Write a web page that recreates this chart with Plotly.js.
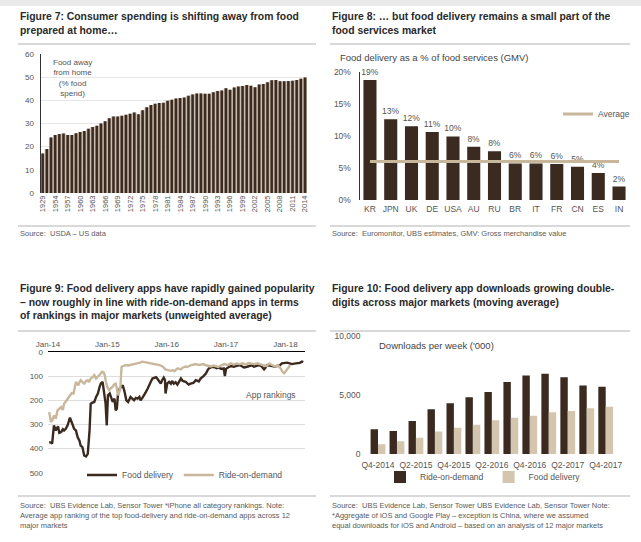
<!DOCTYPE html>
<html><head><meta charset="utf-8">
<script src="https://cdn.plot.ly/plotly-3.0.1.min.js"></script>
<style>html,body{margin:0;padding:0;background:#fff}#chart{width:641px;height:542px}</style>
</head><body><div id="chart"></div>
<script>
// ---------- Figure 7 data ----------
const fig7Years = ['1929','1952','1953','1954','1955','1956','1957','1958','1959','1960','1961','1962','1963','1964','1965','1966','1967','1968','1969','1970','1971','1972','1973','1974','1975','1976','1977','1978','1979','1980','1981','1982','1983','1984','1985','1986','1987','1988','1989','1990','1991','1992','1993','1994','1995','1996','1997','1998','1999','2000','2001','2002','2003','2004','2005','2006','2007','2008','2009','2010','2011','2012','2013','2014'];
const fig7Share = [17,19,24,25,25.5,25.7,25,25,25.8,26.3,26.8,27.7,28.5,29,30,31,32.3,33,33,33.3,33.8,34.2,34.8,34,35.7,37,38,38.5,38.8,39,39.8,40.3,40.8,41,41.2,42,42.5,43,43,42.8,42.8,43.5,44,44.2,45.2,44.6,45.5,46,46.2,46.6,46.3,45.6,46.8,47,47.8,48.7,48.8,48.2,48.2,48.3,48.4,48.8,49.3,49.9];
const fig7TickYears = ['1929','1954','1957','1960','1963','1966','1969','1972','1975','1978','1981','1984','1987','1990','1993','1996','1999','2002','2005','2008','2011','2014'];

// ---------- Figure 8 data ----------
const fig8Countries = ['KR','JPN','UK','DE','USA','AU','RU','BR','IT','FR','CN','ES','IN'];
const fig8Share = [18.7,12.6,11.5,10.6,9.9,8.3,7.6,5.7,5.7,5.6,5.2,4.2,2.1];
const fig8Average = [6.0,6.0,6.0,6.0,6.0,6.0,6.0,6.0,6.0,6.0,6.0,6.0,6.0];
const fig8TickVals = [0,5,10,15,20];
const fig8TickText = ['0%','5%','10%','15%','20%'];

// ---------- Figure 9 data (decimal years, average rank) ----------
const fig9FoodT = [2014.02,2014.05,2014.07,2014.10,2014.13,2014.17,2014.19,2014.22,2014.25,2014.27,2014.30,2014.33,2014.37,2014.42,2014.44,2014.47,2014.50,2014.53,2014.55,2014.58,2014.61,2014.64,2014.67,2014.70,2014.72,2014.75,2014.78,2014.81,2014.84,2014.87,2014.89,2014.92,2014.94,2014.96,2014.97,2014.99,2015.01,2015.04,2015.09,2015.12,2015.14,2015.16,2015.18,2015.21,2015.24,2015.26,2015.29,2015.32,2015.35,2015.38,2015.39,2015.42,2015.45,2015.48,2015.51,2015.54,2015.56,2015.59,2015.62,2015.65,2015.68,2015.71,2015.73,2015.76,2015.79,2015.82,2015.84,2015.87,2015.90,2015.92,2015.95,2015.97,2015.98,2016.01,2016.04,2016.07,2016.09,2016.12,2016.15,2016.18,2016.24,2016.27,2016.32,2016.37,2016.40,2016.45,2016.49,2016.54,2016.57,2016.62,2016.66,2016.69,2016.71,2016.76,2016.79,2016.84,2016.88,2016.92,2016.96,2016.98,2017.00,2017.05,2017.09,2017.13,2017.18,2017.22,2017.26,2017.30,2017.34,2017.38,2017.43,2017.47,2017.51,2017.55,2017.60,2017.64,2017.66,2017.69,2017.73,2017.78,2017.82,2017.86,2017.90,2017.94,2017.98,2018.03,2018.07,2018.11,2018.15,2018.20,2018.24,2018.28,2018.30];
const fig9FoodRank = [375,374,380,304,325,308,335,332,320,325,318,304,272,304,318,325,353,367,388,394,429,433,422,325,214,210,207,186,172,144,130,124,158,193,213,304,179,172,207,193,242,235,172,151,144,138,165,200,207,193,186,193,200,190,193,186,200,190,179,165,151,131,124,110,106,104,110,120,131,118,106,115,172,130,124,131,120,131,125,135,110,120,124,135,131,128,117,122,110,100,89,75,68,62,61,67,65,70,68,100,70,61,58,61,56,54,58,64,62,58,55,61,58,54,60,72,66,54,56,58,60,58,56,47,45,44,47,50,48,47,45,40,42];
const fig9RideT = [2014.02,2014.05,2014.08,2014.10,2014.12,2014.13,2014.16,2014.19,2014.22,2014.25,2014.27,2014.30,2014.33,2014.35,2014.37,2014.40,2014.43,2014.45,2014.47,2014.49,2014.51,2014.53,2014.55,2014.58,2014.61,2014.64,2014.67,2014.69,2014.72,2014.75,2014.78,2014.81,2014.84,2014.86,2014.89,2014.91,2014.94,2014.96,2014.97,2015.00,2015.03,2015.06,2015.09,2015.11,2015.14,2015.16,2015.18,2015.21,2015.22,2015.23,2015.24,2015.27,2015.31,2015.35,2015.39,2015.44,2015.48,2015.51,2015.55,2015.59,2015.63,2015.68,2015.71,2015.76,2015.80,2015.84,2015.88,2015.93,2015.95,2015.98,2016.02,2016.07,2016.10,2016.13,2016.17,2016.20,2016.24,2016.27,2016.32,2016.35,2016.40,2016.44,2016.49,2016.54,2016.57,2016.62,2016.66,2016.69,2016.74,2016.79,2016.84,2016.87,2016.92,2016.97,2017.03,2017.08,2017.13,2017.18,2017.23,2017.28,2017.33,2017.38,2017.43,2017.48,2017.53,2017.58,2017.63,2017.68,2017.73,2017.78,2017.83,2017.88,2017.92,2017.95,2017.98,2018.02,2018.05,2018.08];
const fig9RideRank = [249,290,280,263,270,276,242,235,228,240,214,205,193,185,179,170,172,150,124,130,138,125,117,125,131,120,117,125,110,105,96,110,103,95,89,82,85,100,117,145,158,150,144,135,131,150,179,160,144,100,61,58,54,56,54,50,48,47,44,40,42,47,46,50,51,53,54,60,65,72,75,78,75,80,70,68,72,65,60,62,55,52,50,54,52,50,55,58,60,56,58,62,55,50,54,47,52,48,50,47,52,46,48,50,47,52,55,58,48,55,60,56,68,82,88,75,62,55];
const fig9TickVals = [2014,2015,2016,2017,2018];
const fig9TickText = ['Jan-14','Jan-15','Jan-16','Jan-17','Jan-18'];

// ---------- Figure 10 data ----------
const fig10Quarters = ['Q4-2014','Q1-2015','Q2-2015','Q3-2015','Q4-2015','Q1-2016','Q2-2016','Q3-2016','Q4-2016','Q1-2017','Q2-2017','Q3-2017','Q4-2017'];
const fig10Ride = [2100,1950,2800,3800,4300,4800,5250,6100,6650,6800,6500,5800,5700];
const fig10Food = [820,1070,1380,1900,2230,2480,2850,3080,3250,3530,3640,3870,4010];
const fig10TickQuarters = ['Q4-2014','Q2-2015','Q4-2015','Q2-2016','Q4-2016','Q2-2017','Q4-2017'];

// ---------- styling ----------
const W = 641, H = 542;
const px = x => x / W, py = y => 1 - y / H;
const DARK = '#3b2a20', TAN = '#c9b79c', TAN_LIGHT = '#d4c5ae', GAP = '#b9ab9c';
const FONT = 'Liberation Sans, Arial, sans-serif';
const TXT = '#555555';

const traces = [
  {type:'bar', x:fig7Years, y:fig7Share, xaxis:'x', yaxis:'y', width:1, marker:{color:GAP}, showlegend:false, hoverinfo:'skip'},
  {type:'bar', x:fig7Years, y:fig7Share, xaxis:'x', yaxis:'y', width:0.6, marker:{color:DARK}, showlegend:false, hoverinfo:'skip'},

  {type:'bar', x:fig8Countries, y:fig8Share, xaxis:'x2', yaxis:'y2', width:0.63, marker:{color:DARK},
   texttemplate:'%{y:.0f}%', textposition:'outside', constraintext:'none', cliponaxis:false,
   textfont:{size:8.5, color:TXT, family:FONT}, showlegend:false, hoverinfo:'skip'},
  {type:'scatter', mode:'lines', x:fig8Countries, y:fig8Average, xaxis:'x2', yaxis:'y2', name:'Average',
   line:{color:TAN, width:3}, legend:'legend', showlegend:true, hoverinfo:'skip'},

  {type:'scatter', mode:'lines', x:fig9FoodT, y:fig9FoodRank, xaxis:'x3', yaxis:'y3', name:'Food delivery',
   line:{color:DARK, width:2.4}, legend:'legend2', hoverinfo:'skip'},
  {type:'scatter', mode:'lines', x:fig9RideT, y:fig9RideRank, xaxis:'x3', yaxis:'y3', name:'Ride-on-demand',
   line:{color:TAN, width:2.4}, legend:'legend2', hoverinfo:'skip'},

  {type:'bar', x:fig10Quarters, y:fig10Ride, xaxis:'x4', yaxis:'y4', name:'Ride-on-demand', width:0.39, offset:-0.39,
   marker:{color:DARK}, legend:'legend3', hoverinfo:'skip'},
  {type:'bar', x:fig10Quarters, y:fig10Food, xaxis:'x4', yaxis:'y4', name:'Food delivery', width:0.39, offset:0,
   marker:{color:TAN_LIGHT}, legend:'legend3', hoverinfo:'skip'}
];

const axFont = {family:FONT, size:8, color:TXT};
const titleFont = {family:FONT, size:10.4, color:'#2a2a2a'};
const srcFont = {family:FONT, size:7.5, color:'#5a5a5a'};

function ann(x, y, text, font, opts) {
  return Object.assign({xref:'paper', yref:'paper', x:px(x), y:py(y), text:text, showarrow:false,
    font:font, xanchor:'left', yanchor:'top', align:'left'}, opts || {});
}
function rule(x0, x1, y) {
  return {type:'line', xref:'paper', yref:'paper', x0:px(x0), x1:px(x1), y0:py(y), y1:py(y), line:{color:'#cccccc', width:1.5}};
}

const layout = {
  width: W, height: H,
  margin: {l:0, r:0, t:0, b:0},
  paper_bgcolor: '#ffffff', plot_bgcolor: 'rgba(0,0,0,0)',
  font: {family: FONT, color: TXT},
  barmode: 'overlay',
  showlegend: true,
  xaxis: {domain:[px(40.6), px(307.1)], anchor:'y', type:'category', range:[-0.5, fig7Years.length - 0.5],
    tickmode:'array', tickvals:fig7TickYears, ticktext:fig7TickYears, tickangle:-90, tickfont:{family:FONT, size:7.5, color:TXT},
    showgrid:false, showline:false, ticks:'', fixedrange:true},
  yaxis: {domain:[py(193), py(54)], anchor:'x', range:[0, 60], dtick:10, tickfont:axFont, gridcolor:'#e6e6e6',
    showline:true, linecolor:'#333333', linewidth:1, zeroline:false, ticks:'', ticklabelstandoff:4, fixedrange:true},

  xaxis2: {domain:[px(359.6), px(629.4)], anchor:'y2', type:'category', tickfont:{family:FONT, size:8.5, color:TXT},
    showgrid:false, showline:false, ticks:'', ticklabelstandoff:2, fixedrange:true},
  yaxis2: {domain:[py(200), py(71.7)], anchor:'x2', range:[0, 20], tickmode:'array', tickvals:fig8TickVals, ticktext:fig8TickText,
    tickfont:{family:FONT, size:8.5, color:TXT}, showgrid:false, showline:true, linecolor:'#333333', linewidth:1,
    zeroline:false, ticks:'', ticklabelstandoff:6, fixedrange:true},

  xaxis3: {domain:[px(48), px(305)], anchor:'y3', side:'top', range:[2014.0, 2018.33], tickmode:'array',
    tickvals:fig9TickVals, ticktext:fig9TickText, tickfont:axFont, showgrid:false, showline:true, linecolor:'#000000',
    linewidth:1.5, zeroline:false, ticks:'', fixedrange:true},
  yaxis3: {domain:[py(472.7), py(352)], anchor:'x3', range:[500, 0], dtick:100, tickfont:axFont, gridcolor:'#dddddd',
    showline:false, zeroline:false, ticks:'', ticklabelstandoff:4, fixedrange:true},

  xaxis4: {domain:[px(368.5), px(615.2)], anchor:'y4', type:'category', tickmode:'array', tickvals:fig10TickQuarters,
    ticktext:fig10TickQuarters, tickfont:{family:FONT, size:8.5, color:TXT}, showgrid:false, showline:false, ticks:'',
    ticklabelstandoff:4, fixedrange:true},
  yaxis4: {domain:[py(454), py(336)], anchor:'x4', range:[0, 10000], tickmode:'array', tickvals:[0,5000,10000], tickformat:',',
    tickfont:{family:FONT, size:8.5, color:TXT}, showgrid:false, showline:false, zeroline:false, ticks:'',
    ticklabelstandoff:7, fixedrange:true},

  legend: {x:px(558), y:py(114), xanchor:'left', yanchor:'middle', orientation:'h', font:{family:FONT, size:8.5, color:TXT},
    bgcolor:'rgba(0,0,0,0)', itemwidth:30},
  legend2: {x:px(82), y:py(475), xanchor:'left', yanchor:'middle', orientation:'h', font:{family:FONT, size:8.5, color:TXT},
    bgcolor:'rgba(0,0,0,0)', itemwidth:30},
  legend3: {x:px(483), y:py(477), xanchor:'center', yanchor:'middle', orientation:'h', font:{family:FONT, size:8.5, color:TXT},
    bgcolor:'rgba(0,0,0,0)', itemwidth:30},

  shapes: [
    {type:'rect', xref:'paper', yref:'paper', x0:0, x1:1, y0:py(6), y1:1, fillcolor:'#e9e9e9', line:{width:0}},
    rule(18, 316, 44), rule(18, 316, 226),
    rule(330, 630, 44), rule(330, 630, 226),
    rule(18, 316, 331), rule(18, 316, 496),
    rule(330, 630, 331), rule(330, 630, 496)
  ],
  annotations: [
    ann(18, 9, '<b>Figure 7: Consumer spending is shifting away from food<br>prepared at home…</b>', titleFont),
    ann(330, 9, '<b>Figure 8: … but food delivery remains a small part of the<br>food services market</b>', titleFont),
    ann(18, 281, '<b>Figure 9: Food delivery apps have rapidly gained popularity<br>– now roughly in line with ride-on-demand apps in terms<br>of rankings in major markets (unweighted average)</b>', titleFont),
    ann(330, 281, '<b>Figure 10: Food delivery app downloads growing double-<br>digits across major markets (moving average)</b>', titleFont),

    ann(72, 56, 'Food away<br>from home<br>(% food<br>spend)', {family:FONT, size:8, color:TXT}, {xanchor:'center', align:'center'}),
    ann(338, 57, 'Food delivery as a % of food services (GMV)', {family:FONT, size:9.5, color:'#444'}, {yanchor:'middle'}),
    ann(271, 395, 'App rankings', {family:FONT, size:8.5, color:TXT}, {xanchor:'center', yanchor:'middle'}),
    ann(377, 345, 'Downloads per week (\'000)', {family:FONT, size:9.5, color:'#444'}, {yanchor:'middle'}),

    ann(18, 233, 'Source:  USDA – US data', srcFont, {yanchor:'middle'}),
    ann(330, 233, 'Source:  Euromonitor, UBS estimates, GMV: Gross merchandise value', srcFont, {yanchor:'middle'}),
    ann(18, 499, 'Source:  UBS Evidence Lab, Sensor Tower *iPhone all category rankings. Note:<br>Average app ranking of the top food-delivery and ride-on-demand apps across 12<br>major markets', srcFont),
    ann(330, 499, 'Source:  UBS Evidence Lab, Sensor Tower UBS Evidence Lab, Sensor Tower Note:<br>*Aggregate of iOS and Google Play – exception is China, where we assumed<br>equal downloads for iOS and Android – based on an analysis of 12 major markets', srcFont)
  ]
};

Plotly.newPlot('chart', traces, layout, {staticPlot:true, displayModeBar:false});
</script></body></html>
